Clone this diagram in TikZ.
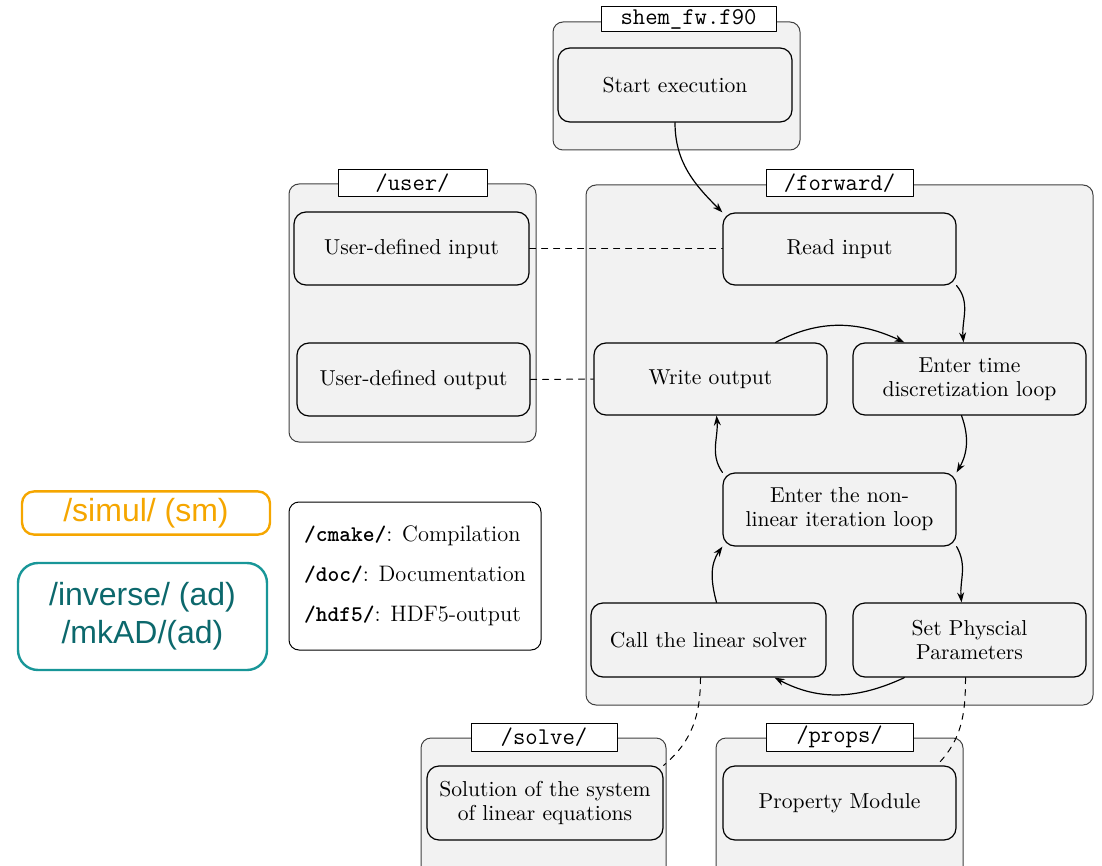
\documentclass[tikz,border=0pt]{standalone}
\usepackage{fontspec}
\newfontfamily\sansfont{Liberation Sans}
\usetikzlibrary{arrows.meta}

\definecolor{simulorange}{RGB}{245,166,0}
\definecolor{adteal}{RGB}{24,150,152}
\definecolor{adtext}{RGB}{12,104,108}

\begin{document}
\begin{tikzpicture}[
  x=0.5pt,
  y=-0.5pt,
  line cap=round,
  line join=round,
  >={Stealth[length=5pt,width=3.5pt]},
  group/.style={draw=black!75, fill=black!5, rounded corners=5pt,
    line width=0.5pt, inner sep=0pt},
  title/.style={draw=black, fill=white, line width=0.5pt,
    font=\large\ttfamily, inner sep=0pt},
  task/.style={draw=black, fill=black!5, rounded corners=6pt,
    line width=0.6pt, align=center, inner sep=2pt,
    font=\fontsize{10.8}{12}\selectfont},
  flow/.style={->, line width=0.6pt},
  link/.style={dashed, line width=0.5pt}
]
  \useasboundingbox (0,0) rectangle (1102,866);

  % shem_fw.f90
  \node[group, minimum width=123.5pt, minimum height=64pt] (shemgrp) at (676.5,86) {};
  \node[title, minimum width=87.5pt, minimum height=12.5pt] (shemtitle) at (688.5,19.5) {shem\_fw.f90};
  \node[task, minimum width=117pt, minimum height=37pt] (start) at (675,85) {Start execution};

  % /forward/
  \node[group, minimum width=253.5pt, minimum height=260pt] (fwdgrp) at (839.5,445) {};
  \node[title, minimum width=73.5pt, minimum height=13.5pt] (fwdtitle) at (839.5,183.5) {/forward/};
  \node[task, minimum width=116.5pt, minimum height=36pt] (read) at (839.5,249) {Read input};
  \node[task, minimum width=116.5pt, minimum height=36pt] (write) at (710.5,379) {Write output};
  \node[task, minimum width=116.5pt, minimum height=36pt] (time) at (969.5,379)
    {Enter time\\discretization loop};
  \node[task, minimum width=116.5pt, minimum height=36.5pt] (nonlin) at (839.5,509.5)
    {Enter the non-\\linear iteration loop};
  \node[task, minimum width=117.5pt, minimum height=37pt] (solver) at (708.5,640)
    {Call the linear solver};
  \node[task, minimum width=116.5pt, minimum height=37pt] (param) at (969.5,640)
    {Set Physcial\\Parameters};

  % /user/
  \node[group, minimum width=123.5pt, minimum height=129pt] (usergrp) at (412.5,313) {};
  \node[title, minimum width=74.5pt, minimum height=13.5pt] (usertitle) at (412.5,183.5) {/user/};
  \node[task, minimum width=117.5pt, minimum height=36.5pt] (uin) at (411.5,248.5)
    {User-defined input};
  \node[task, minimum width=116.5pt, minimum height=36.5pt] (uout) at (413.5,379.5)
    {User-defined output};

  % legend of the other folders
  \node[draw=black, fill=white, rounded corners=5pt, line width=0.5pt,
    minimum width=126pt, minimum height=74pt, align=left,
    font=\fontsize{11.2}{12}\selectfont] (legend) at (415,576)
    {\texttt{\textbf{/cmake/}}: Compilation\\[8pt]
     \texttt{\textbf{/doc/}}: Documentation\\[8pt]
     \texttt{\textbf{/hdf5/}}: HDF5-output};

  % simulation and adjoint folders
  \node[draw=simulorange, rounded corners=6pt, line width=1.2pt,
    minimum width=124pt, minimum height=21pt, text=simulorange,
    font=\sansfont\fontsize{16}{19}\selectfont] (simul) at (146,513) {/simul/ (sm)};
  \node[draw=adteal, rounded corners=10pt, line width=1.2pt,
    minimum width=124.5pt, minimum height=53.5pt, text=adtext, align=center,
    font=\sansfont\fontsize{16}{19}\selectfont] (inverse) at (142.5,616.5)
    {/inverse/ (ad)\\/mkAD/(ad)};

  % /solve/
  \node[group, minimum width=122.5pt, minimum height=71pt] (solvegrp) at (543.5,809) {};
  \node[title, minimum width=73pt, minimum height=14pt] (solvetitle) at (544,737) {/solve/};
  \node[task, minimum width=118pt, minimum height=37pt] (solution) at (545,803)
    {Solution of the system\\of linear equations};

  % /props/
  \node[group, minimum width=123.5pt, minimum height=71pt] (propsgrp) at (839.5,809) {};
  \node[title, minimum width=73.5pt, minimum height=14pt] (propstitle) at (839.5,737) {/props/};
  \node[task, minimum width=116.5pt, minimum height=37pt] (property) at (839.5,803)
    {Property Module};

  % program flow
  \draw[flow] (start.south) to[out=-90, in=135] (read.north west);
  \draw[flow] (read.south east) to[out=-50, in=95] ([xshift=-3pt]time.north);
  \draw[flow] ([xshift=-26pt]write.north east) to[out=28, in=155] ([xshift=26pt]time.north west);
  \draw[flow] ([xshift=-4pt]time.south) to[out=-70, in=60] (nonlin.north east);
  \draw[flow] (nonlin.south east) to[out=-60, in=95] ([xshift=-4pt]param.north);
  \draw[flow] ([xshift=26pt]param.south west) to[out=-155, in=-28] ([xshift=-26pt]solver.south east);
  \draw[flow] ([xshift=4pt]solver.north) to[out=105, in=-125] (nonlin.south west);
  \draw[flow] (nonlin.north west) to[out=125, in=-85] ([xshift=3pt]write.south);

  % links to the other modules
  \draw[link] (uin.east) -- (uin.east -| read.west);
  \draw[link] (uout.east) -- (write.west);
  \draw[link] ([xshift=-4pt]solver.south) to[out=-90, in=40] (solution.north east);
  \draw[link] ([xshift=-2pt]param.south) to[out=-90, in=45] ([xshift=-10pt]property.north east);
\end{tikzpicture}
\end{document}
